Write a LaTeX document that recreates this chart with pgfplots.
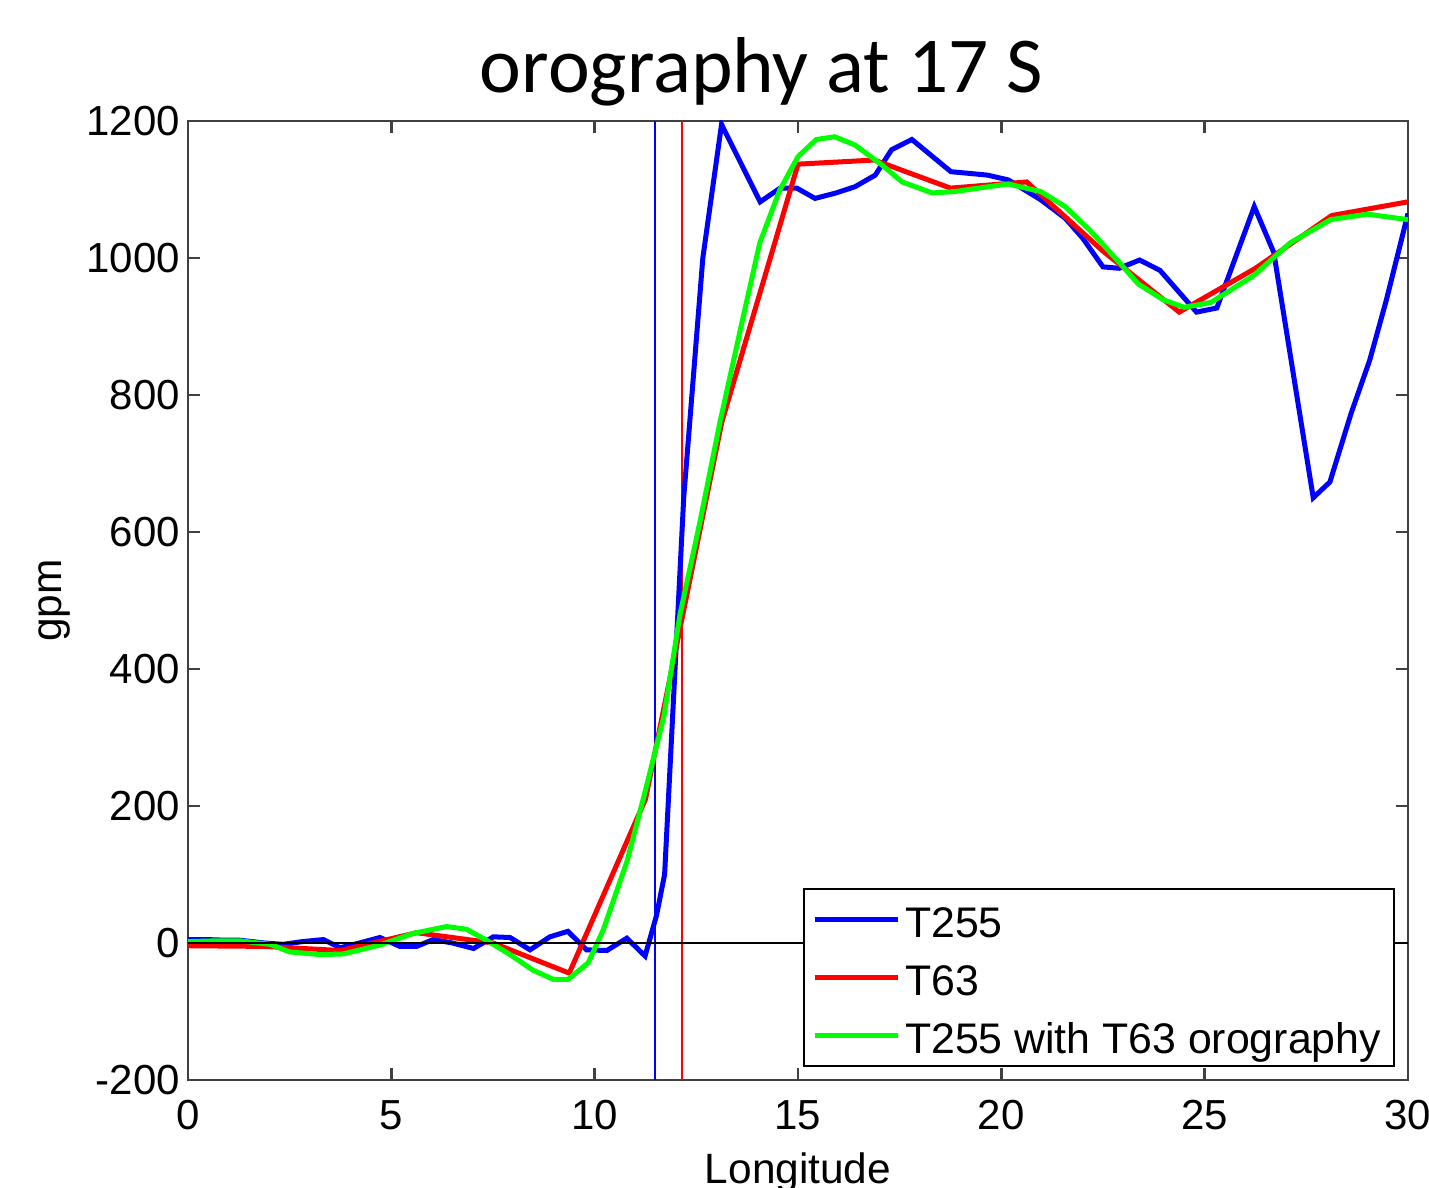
\documentclass[border=0pt]{standalone}
\usepackage{fontspec}
\setmainfont{Liberation Sans}
\newfontfamily\titlefont{Carlito}
\usepackage{pgfplots}
\pgfplotsset{compat=1.18}
\begin{document}
\begin{tikzpicture}
\begin{axis}[
    at={(0pt,0pt)}, anchor=south west,
    scale only axis, width=305pt, height=239.75pt,
    xmin=0, xmax=30, ymin=-200, ymax=1200,
    xtick={0,5,...,30}, ytick={-200,0,...,1200},
    xtick pos=both, ytick pos=both,
    tick align=inside, major tick length=3pt,
    axis line style={line width=0.6pt, black!75},
    tick style={line width=0.6pt, black!75},
    ticklabel style={font=\fontsize{10.5}{12}\selectfont},
    xticklabel style={yshift=-1.5pt},
    yticklabel style={xshift=1.5pt},
    /pgf/number format/assume math mode=true,
    /pgf/number format/1000 sep={},
    every axis title shift=0pt,
    title={orography at 17 S},
    title style={font=\titlefont\fontsize{19.8}{24}\selectfont,
      at={(axis description cs:0.47,1.0302)}, anchor=base},
    xlabel={Longitude},
    xlabel style={font=\fontsize{10.6}{12}\selectfont,
      at={(axis description cs:0.5,-0.0751)}, anchor=north, inner sep=0pt},
    ylabel={gpm},
    ylabel style={font=\fontsize{10.6}{12}\selectfont,
      at={(axis description cs:-0.1033,0.5)}, anchor=base, rotate=0},
    legend style={at={(axis description cs:0.9893,0.0135)}, anchor=south east,
      draw=black, line width=0.5pt, fill=white,
      font=\fontsize{10.7}{12}\selectfont,
      inner xsep=2pt, inner ysep=0.6pt, row sep=0.5pt,
      nodes={inner xsep=1.25pt, inner ysep=2pt, text height=9.4pt, text depth=0.6pt}},
    legend cell align=left,
    legend image code/.code={\path (-1.25pt,0pt) -- (19.5pt,0pt);
      \draw[#1] (0pt,0pt) -- (18.75pt,0pt);},
  ]
  % vertical marker lines
  \addplot[blue, line width=0.6pt, forget plot] coordinates {(11.48,-200) (11.48,1200)};
  \addplot[red, line width=0.6pt, forget plot] coordinates {(12.15,-200) (12.15,1200)};

  % T255
  \addplot[blue, line width=1.25pt] coordinates {
    (0,5) (0.47,5) (0.94,4) (1.28,4) (1.88,0) (2.34,-2) (2.81,2) (3.33,5)
    (3.74,-7) (4.15,-1) (4.72,8) (5.21,-5) (5.62,-5) (6.03,5) (6.5,0)
    (7.02,-8) (7.51,9) (7.92,8) (8.41,-10) (8.9,9) (9.34,17) (9.8,-10)
    (10.3,-11) (10.79,7) (11.24,-19) (11.52,40) (11.72,100) (12.19,650)
    (12.66,1000) (13.12,1195) (14.07,1082) (14.56,1102) (14.97,1102)
    (15.42,1087) (15.94,1095) (16.4,1104) (16.9,1121) (17.3,1158)
    (17.8,1173) (18.76,1126) (19.66,1121) (20.17,1114) (20.97,1085)
    (21.57,1058) (22.0,1029) (22.5,987) (22.9,985) (23.4,997) (23.9,982)
    (24.8,921) (25.3,927) (26.22,1075) (26.7,1008) (27.67,650) (28.08,673)
    (28.6,773) (29.06,851) (29.47,939) (30,1065)
  };
  \addlegendentry{T255}

  % T63
  \addplot[red, line width=1.25pt] coordinates {
    (0,-4) (1.875,-5) (3.75,-11) (5.625,15) (7.5,0) (9.375,-44) (11.25,210)
    (13.125,760) (15.0,1137) (16.875,1143) (18.75,1102) (20.625,1111)
    (22.5,1010) (24.375,921) (26.25,985) (28.125,1062) (30,1082)
  };
  \addlegendentry{T63}

  % T255 with T63 orography
  \addplot[green, line width=1.25pt] coordinates {
    (0,2) (0.6,3) (1.28,3) (2.02,-2) (2.5,-13) (3.25,-17) (3.82,-16)
    (4.72,-3) (5.54,14) (6.36,24) (6.85,20) (7.34,4) (7.92,-17) (8.49,-40)
    (8.98,-53) (9.35,-53) (9.84,-29) (10.21,19) (10.8,120) (11.28,230)
    (11.7,330) (12.1,480) (12.59,615) (13.08,760) (13.6,900) (14.06,1022)
    (14.55,1099) (15.0,1148) (15.45,1173) (15.9,1177) (16.4,1165)
    (17.06,1136) (17.56,1111) (18.3,1095) (18.86,1097) (19.56,1103)
    (20.17,1108) (20.97,1097) (21.57,1075) (22.17,1041) (22.77,1002)
    (23.37,962) (23.98,939) (24.5,928) (25.15,935) (26.2,974) (27.1,1022)
    (28.1,1056) (29.0,1064) (30,1056)
  };
  \addlegendentry{T255 with T63 orography}

  % zero line
  \addplot[black, line width=0.4pt, forget plot] coordinates {(0,0) (30,0)};
\end{axis}
\pgfresetboundingbox
\useasboundingbox (-47pt,-27pt) rectangle (310.25pt,270pt);
\end{tikzpicture}
\end{document}
